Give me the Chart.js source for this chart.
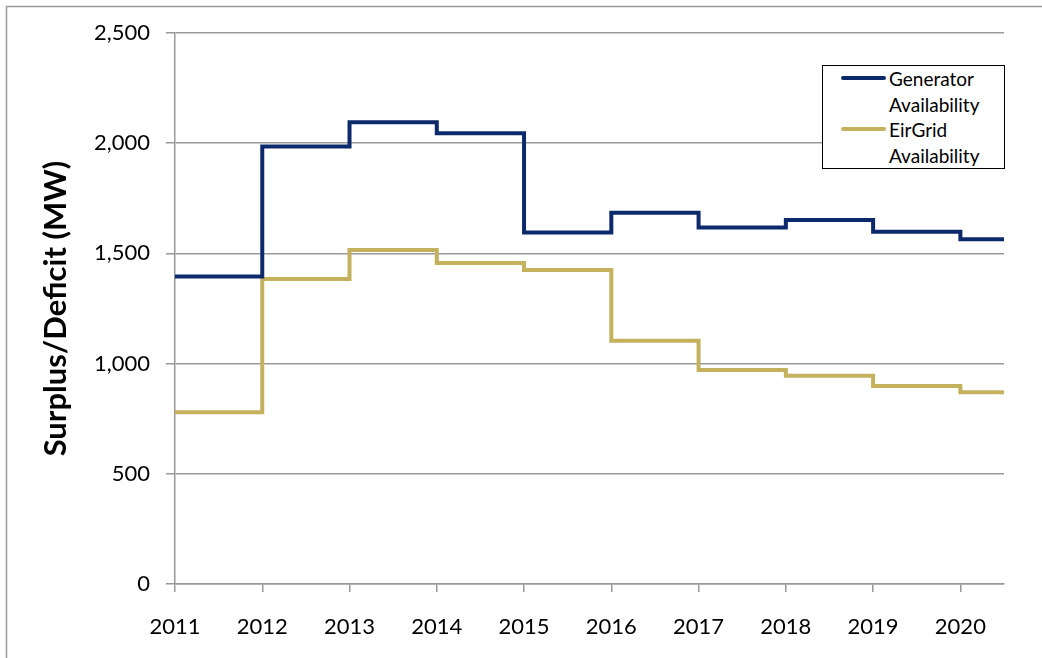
<!DOCTYPE html>
<html>
<head>
<meta charset="utf-8">
<script src="https://cdn.jsdelivr.net/npm/chart.js@4"></script>
<style>
  html, body { margin: 0; padding: 0; background: #fff; overflow: hidden; }
  #wrap { position: relative; width: 1042px; height: 658px; }
  #legend {
    position: absolute; left: 822px; top: 65px; width: 183px; height: 104px;
    box-sizing: border-box;
    border: 1.5px solid #000; background: #fff;
    font-family: Lato, sans-serif; font-size: 19px; color: #000;
  }
  #legend .row { position: relative; height: 25.5px; line-height: 25px; padding-left: 66px; }
  #legend .sw { position: absolute; left: 18px; top: 10px; width: 45px; height: 4px; border-radius: 2px; }
</style>
</head>
<body>
<div id="wrap">
  <canvas id="grafico" width="1042" height="658"></canvas>
  <div id="legend"></div>
</div>
<script>
const ctx = document.getElementById('grafico')

// dados
const years = [2011, 2012, 2013, 2014, 2015, 2016, 2017, 2018, 2019, 2020]
const generatorAvail = [1395, 1985, 2095, 2045, 1595, 1685, 1617, 1652, 1598, 1564]
const eirgridAvail = [779, 1384, 1515, 1456, 1425, 1104, 971, 945, 898, 870]
const seriesNames = [['Generator', 'Availability'], ['EirGrid', 'Availability']]
const yTicks = [0, 500, 1000, 1500, 2000, 2500]
const xMax = 2020.5

const font = 'Lato'
const gray = '#999'

// each step holds until the next year; last one runs to the axis end
function steps(values) {
  const pts = years.map((y, i) => ({ x: y, y: values[i] }))
  pts.push({ x: xMax, y: values[values.length - 1] })
  return pts
}

const outerBorder = {
  id: 'outerBorder',
  beforeDraw(chart) {
    const c = chart.ctx
    c.save()
    c.strokeStyle = '#9a9a9a'
    c.lineWidth = 1.5
    c.strokeRect(6.5, 6.5, 1100, 700)
    c.restore()
  }
}

const config = {
  type: 'line',
  data: {
    datasets: [{
      label: seriesNames[0].join(' '),
      data: steps(generatorAvail),
      borderColor: '#0c2a6b',
      borderWidth: 4,
      stepped: true,
      pointRadius: 0
    }, {
      label: seriesNames[1].join(' '),
      data: steps(eirgridAvail),
      borderColor: '#c4b15e',
      borderWidth: 4,
      stepped: true,
      pointRadius: 0
    }]
  },
  options: {
    responsive: false,
    animation: false,
    layout: { padding: { top: 33, right: 38, left: 0, bottom: 0 } },
    plugins: {
      legend: { display: false },
      tooltip: { enabled: false }
    },
    scales: {
      x: {
        type: 'linear',
        min: years[0],
        max: xMax,
        afterFit: s => { s.height = 74 },
        ticks: {
          stepSize: 1,
          includeBounds: false,
          autoSkip: false,
          maxRotation: 0,
          color: '#000',
          padding: 22,
          font: { family: font, size: 22 },
          callback: v => String(v)
        },
        grid: { drawOnChartArea: false, drawTicks: true, tickLength: 8, color: gray, lineWidth: 1.5 },
        border: { display: true, color: gray, width: 1.5 }
      },
      y: {
        min: 0,
        max: 2500,
        afterFit: s => { s.width = 175 },
        afterBuildTicks: s => { s.ticks = yTicks.map(v => ({ value: v })) },
        ticks: {
          color: '#000',
          padding: 16,
          font: { family: font, size: 22 }
        },
        grid: { color: gray, lineWidth: 1.5, tickLength: 9 },
        border: { display: true, color: gray, width: 1.5 },
        title: {
          display: true,
          text: 'Surplus/Deficit (MW)',
          color: '#000',
          padding: { top: 37, bottom: 0 },
          font: { family: font, size: 31, weight: 'bold' }
        }
      }
    }
  },
  plugins: [outerBorder]
}

const graph = new Chart(ctx, config)

// legenda em HTML
const legend = document.getElementById('legend')
graph.data.datasets.forEach((ds, i) => {
  seriesNames[i].forEach((txt, j) => {
    const row = document.createElement('div')
    row.className = 'row'
    row.textContent = txt
    if (j === 0) {
      const sw = document.createElement('span')
      sw.className = 'sw'
      sw.style.background = ds.borderColor
      row.appendChild(sw)
    }
    legend.appendChild(row)
  })
})
</script>
</body>
</html>
